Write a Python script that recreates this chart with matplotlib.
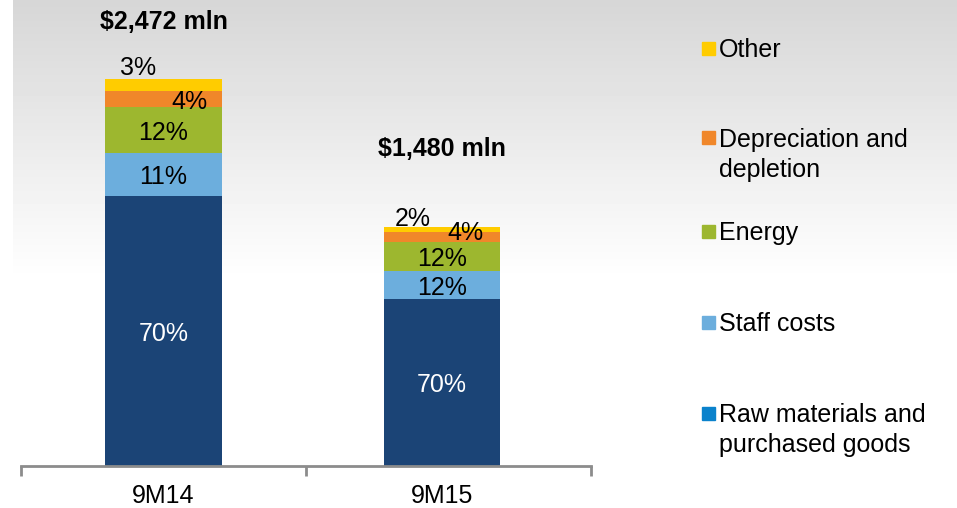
import numpy as np
import matplotlib
matplotlib.use("Agg")
import matplotlib.pyplot as plt
from matplotlib.patches import Rectangle

plt.rcParams["font.family"] = ["Liberation Sans", "DejaVu Sans"]

# ----------------------------
# Data (US$ mln)
# ----------------------------
periods = ["9M14", "9M15"]
totals = ["$2,472 mln", "$1,480 mln"]
series = ["Raw materials and\npurchased goods", "Staff costs", "Energy",
          "Depreciation and\ndepletion", "Other"]
raw_materials = [1725, 1067]
staff_costs = [275, 179]
energy = [294, 185]
depreciation = [102, 64]
other = [77, 32]
pct_raw = ["70%", "70%"]
pct_staff = ["11%", "12%"]
pct_energy = ["12%", "12%"]
pct_dep = ["4%", "4%"]
pct_other = ["3%", "2%"]

colors = ["#1B4476", "#6CAEDD", "#9DB72F", "#F0872A", "#FFCC00"]
legend_colors = ["#0A82CC", "#6CAEDD", "#9DB72F", "#F0872A", "#FFCC00"]

W, H = 957, 508
fig = plt.figure(figsize=(W / 100, H / 100), dpi=100)

# ----------------------------
# Gradient background
# ----------------------------
bg = fig.add_axes([13 / W, 0, 1 - 13 / W, 1], zorder=-10)
rows = np.linspace(0, 1, H)
grad = np.clip(0.84 + 0.16 * rows / 0.55, 0, 1)
img = np.repeat(grad[:, None], 10, axis=1)
bg.imshow(img, cmap="gray", vmin=0, vmax=1, aspect="auto",
          extent=[0, 1, 0, 1], origin="upper")
bg.axis("off")

# ----------------------------
# Bars
# ----------------------------
ax = fig.add_axes([21 / W, 42 / H, 570 / W, 466 / H])
ax.patch.set_alpha(0)
xpos = [0, 0.977]
width = 0.408
stack = [raw_materials, staff_costs, energy, depreciation, other]
bottom = np.zeros(2)
for vals, c in zip(stack, colors):
    ax.bar(xpos, vals, width, bottom=bottom, color=c, zorder=2)
    bottom += np.array(vals)

ax.set_xlim(-0.5, 1.5)
ax.set_ylim(0, 2976)
ax.set_yticks([])
for s in ["top", "right", "left"]:
    ax.spines[s].set_visible(False)
ax.spines["bottom"].set_color("#8C8C8C")
ax.spines["bottom"].set_linewidth(2)
ax.spines["bottom"].set_zorder(3)
ax.set_xticks([-0.5, 0.5, 1.5])
ax.set_xticklabels([])
ax.tick_params(axis="x", length=7, width=2, color="#8C8C8C", direction="out")

fs = 18
for i, p in enumerate(periods):
    ax.annotate(p, (xpos[i], 0), xytext=(0, -21.5), textcoords="offset points",
                ha="center", va="center", fontsize=fs)


def label(txt, x, y, dx=0, dy=0, **kw):
    # va=center sits a little high for caps/digits, so nudge down 2pt
    ax.annotate(txt, (x, y), xytext=(dx, dy - 2), textcoords="offset points",
                ha="center", va="center", fontsize=fs, **kw)


for i in range(2):
    r, s_, e, d, o = (raw_materials[i], staff_costs[i], energy[i],
                      depreciation[i], other[i])
    x = xpos[i]
    top = r + s_ + e + d + o
    label(pct_raw[i], x, r / 2, color="white")
    label(pct_staff[i], x, r + s_ / 2)
    label(pct_energy[i], x, r + s_ + e / 2)
    if i == 0:
        label(pct_dep[i], x, r + s_ + e + d / 2, dx=19, dy=0)
        label(pct_other[i], x, top, dx=-18, dy=9.5)
        label(totals[i], x, top, dy=43, fontweight="bold")
    else:
        label(pct_dep[i], x, r + s_ + e + d / 2, dx=17, dy=4.5)
        label(pct_other[i], x, top, dx=-21, dy=8)
        label(totals[i], x, top, dy=58, fontweight="bold")

# ----------------------------
# Legend (manual)
# ----------------------------
leg_y = [413, 322, 231, 138, 48]
for name, c, y in zip(series, legend_colors, leg_y):
    fig.patches.append(Rectangle((702 / W, 1 - (y + 6.5) / H), 13 / W, 13 / H,
                                 transform=fig.transFigure, color=c))
    fig.text(719 / W, 1 - (y - 10) / H, name, ha="left", va="top",
             fontsize=fs, linespacing=1.3)

fig.savefig("out.png", dpi=100)
